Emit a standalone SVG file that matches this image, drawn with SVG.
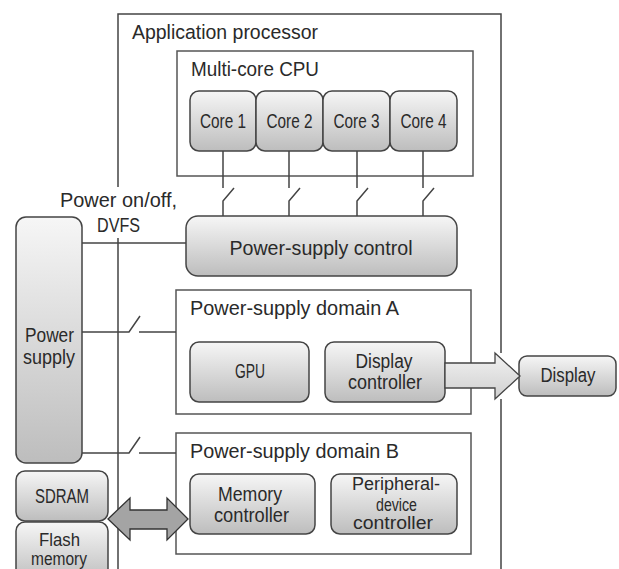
<svg xmlns="http://www.w3.org/2000/svg" width="619" height="569" viewBox="0 0 619 569">
<defs>
<linearGradient id="g" x1="0" y1="0" x2="0" y2="1">
<stop offset="0" stop-color="#f6f6f6"/>
<stop offset="1" stop-color="#bdbdbd"/>
</linearGradient>
<linearGradient id="ga" x1="0" y1="0" x2="0" y2="1">
<stop offset="0" stop-color="#f2f2f2"/>
<stop offset="1" stop-color="#cfcfcf"/>
</linearGradient>
</defs>
<style>
.frame{fill:#fff;stroke:#555;stroke-width:1.5}
.node{fill:url(#g);stroke:#444;stroke-width:1.5}
.ln{fill:none;stroke:#444;stroke-width:1.5}
text{font-family:"Liberation Sans",Arial,sans-serif;fill:#2a2a2a;font-size:20.5px}
.s{font-size:20px}
.t{font-size:17.5px}
.c{text-anchor:middle}
</style>

<g id="application-processor">
<path class="ln" d="M118 187V14H501V353M501 399V569M118 238V569"/>
<text x="132" y="39" textLength="186" lengthAdjust="spacingAndGlyphs">Application processor</text>
</g>

<g id="multi-core-cpu">
<rect class="frame" x="177" y="51" width="296" height="125"/>
<text x="191" y="76" textLength="128" lengthAdjust="spacingAndGlyphs">Multi-core CPU</text>
</g>
<g id="core1"><rect class="node" x="190" y="91" width="66" height="60" rx="9"/><text class="s c" x="223" y="128" textLength="46" lengthAdjust="spacingAndGlyphs">Core 1</text></g>
<g id="core2"><rect class="node" x="256" y="91" width="67" height="60" rx="9"/><text class="s c" x="289.5" y="128" textLength="46" lengthAdjust="spacingAndGlyphs">Core 2</text></g>
<g id="core3"><rect class="node" x="323" y="91" width="67" height="60" rx="9"/><text class="s c" x="356.5" y="128" textLength="46" lengthAdjust="spacingAndGlyphs">Core 3</text></g>
<g id="core4"><rect class="node" x="390" y="91" width="67" height="60" rx="9"/><text class="s c" x="423.5" y="128" textLength="46" lengthAdjust="spacingAndGlyphs">Core 4</text></g>

<g id="power-supply-control">
<rect class="node" x="186" y="216" width="271" height="60" rx="12"/>
<text class="c" x="321" y="255" textLength="183" lengthAdjust="spacingAndGlyphs">Power-supply control</text>
</g>

<g id="power-supply">
<rect class="node" x="16" y="217" width="66" height="246" rx="10"/>
<text class="s c" x="49.5" y="342" textLength="49" lengthAdjust="spacingAndGlyphs">Power</text>
<text class="s c" x="49" y="364" textLength="52" lengthAdjust="spacingAndGlyphs">supply</text>
</g>

<g id="power-label">
<text class="c" x="118.5" y="207" textLength="117" lengthAdjust="spacingAndGlyphs">Power on/off,</text>
<text class="c" x="118.5" y="232" textLength="43" lengthAdjust="spacingAndGlyphs">DVFS</text>
</g>

<g id="domain-a">
<rect class="frame" x="176" y="290" width="295" height="124"/>
<text x="190" y="315" textLength="209" lengthAdjust="spacingAndGlyphs">Power-supply domain A</text>
</g>
<g id="gpu"><rect class="node" x="190" y="342" width="119" height="60" rx="9"/><text class="s c" x="250" y="378" textLength="30" lengthAdjust="spacingAndGlyphs">GPU</text></g>
<g id="display-controller"><rect class="node" x="325" y="342" width="120" height="60" rx="9"/>
<text class="s c" x="384" y="368" textLength="57" lengthAdjust="spacingAndGlyphs">Display</text>
<text class="s c" x="385" y="389" textLength="74" lengthAdjust="spacingAndGlyphs">controller</text></g>

<g id="display"><rect class="node" x="519" y="356" width="97" height="40" rx="8"/><text class="s c" x="568" y="382" textLength="55" lengthAdjust="spacingAndGlyphs">Display</text></g>

<g id="domain-b">
<rect class="frame" x="176" y="433" width="295" height="121"/>
<text x="190" y="458" textLength="209" lengthAdjust="spacingAndGlyphs">Power-supply domain B</text>
</g>
<g id="memory-controller"><rect class="node" x="190" y="474" width="125" height="60" rx="9"/>
<text class="s c" x="250" y="501" textLength="64" lengthAdjust="spacingAndGlyphs">Memory</text>
<text class="s c" x="251.5" y="522" textLength="75" lengthAdjust="spacingAndGlyphs">controller</text></g>
<g id="peripheral-device-controller"><rect class="node" x="331" y="474" width="126" height="60" rx="9"/>
<text class="t c" x="396" y="490" textLength="88" lengthAdjust="spacingAndGlyphs">Peripheral-</text>
<text class="t c" x="396.5" y="511" textLength="41" lengthAdjust="spacingAndGlyphs">device</text>
<text class="t c" x="393" y="529" textLength="80" lengthAdjust="spacingAndGlyphs">controller</text></g>

<g id="sdram"><rect class="node" x="16" y="471" width="92" height="50" rx="9"/><text class="s c" x="62" y="503" textLength="54" lengthAdjust="spacingAndGlyphs">SDRAM</text></g>
<g id="flash-memory"><rect class="node" x="16" y="522" width="92" height="60" rx="9"/>
<text class="t c" x="59.5" y="546" textLength="41" lengthAdjust="spacingAndGlyphs">Flash</text>
<text class="t c" x="59" y="565" textLength="56" lengthAdjust="spacingAndGlyphs">memory</text></g>

<g id="connectors">
<path class="ln" d="M223 151V188M223 216V201L234 188M289 151V188M289 216V201L300 188M357 151V188M357 216V201L368 188M423 151V188M423 216V201L434 188"/>
<path class="ln" d="M82 243H186"/>
<path class="ln" d="M82 332H129L140 316M139 332H176"/>
<path class="ln" d="M82 453H129L140 437M139 453H176"/>
<path d="M445 363H495V353L520 376L495 399V388H445Z" fill="url(#ga)" stroke="#444" stroke-width="1.3"/>
<path d="M108 519L130 498V510H167V498L188 519L167 540V529H130V540Z" fill="#a4a4a4" stroke="#333" stroke-width="1.3"/>
</g>
</svg>
